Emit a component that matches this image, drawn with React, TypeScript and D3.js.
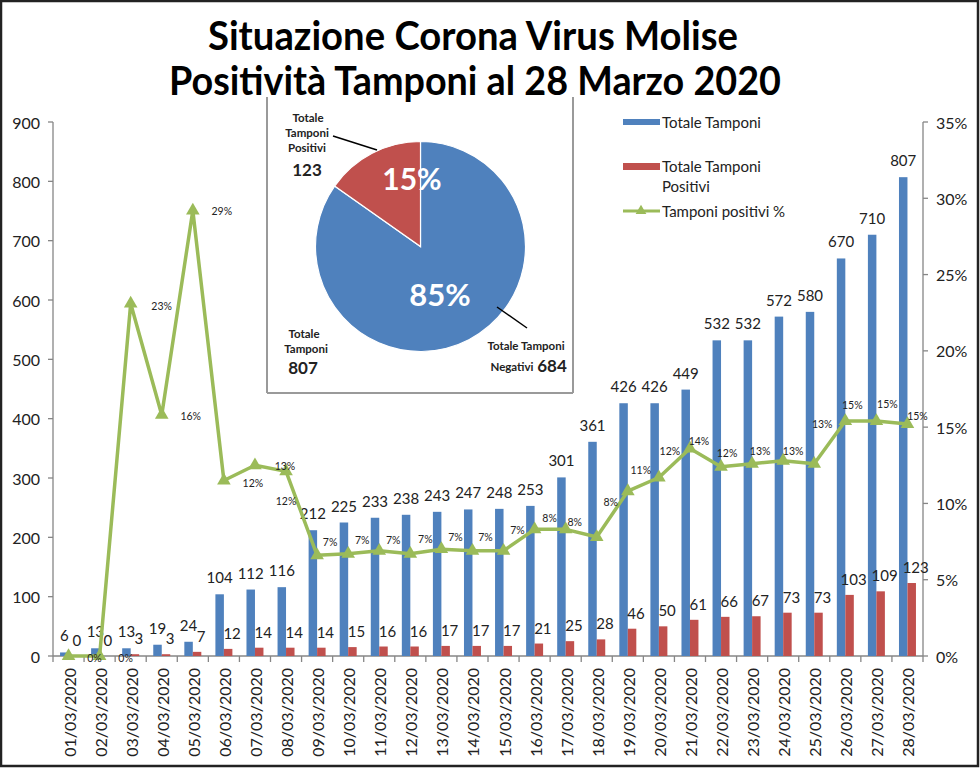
import React from "react";
import * as d3 from "d3";

const dates = [
  "01/03/2020","02/03/2020","03/03/2020","04/03/2020","05/03/2020","06/03/2020","07/03/2020",
  "08/03/2020","09/03/2020","10/03/2020","11/03/2020","12/03/2020","13/03/2020","14/03/2020",
  "15/03/2020","16/03/2020","17/03/2020","18/03/2020","19/03/2020","20/03/2020","21/03/2020",
  "22/03/2020","23/03/2020","24/03/2020","25/03/2020","26/03/2020","27/03/2020","28/03/2020",
];
const totaleTamponi = [6,13,13,19,24,104,112,116,212,225,233,238,243,247,248,253,301,361,426,426,449,532,532,572,580,670,710,807];
const totalePositivi = [0,0,3,3,7,12,14,14,14,15,16,16,17,17,17,21,25,28,46,50,61,66,67,73,73,103,109,123];
const percentPositivi = [0,0,23.1,15.8,29.2,11.5,12.5,12.1,6.6,6.7,6.9,6.7,7.0,6.9,6.9,8.3,8.3,7.8,10.8,11.7,13.6,12.4,12.6,12.8,12.6,15.4,15.4,15.2];
const percentLabels = ["0%","0%","23%","16%","29%","12%","13%","12%","7%","7%","7%","7%","7%","7%","7%","8%","8%","8%","11%","12%","14%","12%","13%","13%","13%","15%","15%","15%"];
// label placement offsets (style)
const pctDx = [26,26,31,29,29,29,30,0,13,14,14,15,14,13,14,15,9,14,13,11,9,6,8,10,8,7,11,10];
const pctDy = [2,2,2,1,1,2,1,30,-13,-14,-11,-15,-12,-14,-21,-11,-7,-35,-21,-26,-8,-14,-13,-10,-40,-16,-17,-8];

const leftTicks = [0,100,200,300,400,500,600,700,800,900];
const rightTicks = [0,5,10,15,20,25,30,35];

const pieValues = [684, 123]; // negativi, positivi
const pieLabels = ["85%", "15%"];

const BLUE = "#4F81BD";
const RED = "#C0504D";
const GREEN = "#9BBB59";
const AXIS = "#868686";
const FONT = "Lato, 'Liberation Sans', sans-serif";

export default function App() {
  const x0 = 53, x1 = 923, yTop = 122, yBot = 656;
  const x = d3.scaleBand<string>().domain(dates).range([x0, x1]).padding(0);
  const sub = d3.scaleBand<string>().domain(["t", "p"]).range([0, x.bandwidth()]).paddingInner(0).paddingOuter(0.83);
  const yL = d3.scaleLinear().domain([0, 900]).range([yBot, yTop]);
  const yR = d3.scaleLinear().domain([0, 35]).range([yBot, yTop]);
  const cx = (d: string) => (x(d) as number) + x.bandwidth() / 2;

  const line = d3.line<number>().x((_, i) => cx(dates[i])).y((v) => yR(v));
  const tri = d3.symbol().type(d3.symbolTriangle).size(80);

  const pie = d3.pie<number>().sort(null).value((d) => d)(pieValues);
  const arc = d3.arc<d3.PieArcDatum<number>>().innerRadius(0).outerRadius(105);
  const pcx = 420.5, pcy = 246.5;

  return (
    <svg width={980} height={768} style={{ position: "absolute", left: 0, top: 0, background: "#fff" }} fontFamily={FONT}>
      <rect x={0} y={0} width={980} height={768} fill="#fff" />

      {/* Axes */}
      <line x1={x0} x2={x0} y1={yTop} y2={yBot} stroke={AXIS} strokeWidth={1.3} />
      <line x1={x1} x2={x1} y1={yTop} y2={yBot} stroke={AXIS} strokeWidth={1.3} />
      <line x1={x0} x2={x1} y1={yBot} y2={yBot} stroke={AXIS} strokeWidth={1.3} />
      {leftTicks.map((t) => (
        <g key={"l" + t}>
          <line x1={x0 - 5} x2={x0} y1={yL(t)} y2={yL(t)} stroke={AXIS} strokeWidth={1.3} />
          <text x={40} y={yL(t)} textAnchor="end" dominantBaseline="central" fontSize={16} fill="#222">{t}</text>
        </g>
      ))}
      {rightTicks.map((t) => (
        <g key={"r" + t}>
          <line x1={x1} x2={x1 + 5} y1={yR(t)} y2={yR(t)} stroke={AXIS} strokeWidth={1.3} />
          <text x={936} y={yR(t)} textAnchor="start" dominantBaseline="central" fontSize={16} fill="#222">{t + "%"}</text>
        </g>
      ))}
      {dates.map((d, i) => (
        <line key={"xt" + i} x1={x(d) as number} x2={x(d) as number} y1={yBot} y2={yBot + 6} stroke={AXIS} strokeWidth={1.3} />
      ))}
      <line x1={x1} x2={x1} y1={yBot} y2={yBot + 6} stroke={AXIS} strokeWidth={1.3} />
      {dates.map((d) => (
        <text key={"xl" + d} transform={`translate(${cx(d) + 7},${668}) rotate(-90)`} textAnchor="end" fontSize={16} fill="#222">{d}</text>
      ))}

      {/* Bars */}
      {dates.map((d, i) => {
        const bx = (x(d) as number) + (sub("t") as number);
        const rx = (x(d) as number) + (sub("p") as number);
        const bw = sub.bandwidth();
        return (
          <g key={"b" + i}>
            <rect x={bx} y={yL(totaleTamponi[i])} width={bw} height={yBot - yL(totaleTamponi[i])} fill={BLUE} />
            <rect x={rx} y={yL(totalePositivi[i])} width={bw} height={yBot - yL(totalePositivi[i])} fill={RED} />
          </g>
        );
      })}
      {dates.map((d, i) => {
        const bx = (x(d) as number) + (sub("t") as number) + sub.bandwidth() / 2;
        const rx = (x(d) as number) + (sub("p") as number) + sub.bandwidth() / 2;
        return (
          <g key={"bl" + i} fontSize={15} fill="#222">
            <text x={bx} y={yL(totaleTamponi[i]) - 17} textAnchor="middle" dominantBaseline="central">{totaleTamponi[i]}</text>
            <text x={rx + 4} y={yL(totalePositivi[i]) - 16} textAnchor="middle" dominantBaseline="central">{totalePositivi[i]}</text>
          </g>
        );
      })}

      {/* Line */}
      <path d={line(percentPositivi) || ""} fill="none" stroke={GREEN} strokeWidth={3.5} strokeLinejoin="round" />
      {percentPositivi.map((v, i) => (
        <path key={"m" + i} d={tri() || ""} transform={`translate(${cx(dates[i])},${yR(v)})`} fill={GREEN} />
      ))}
      {percentPositivi.map((v, i) => (
        <text key={"pl" + i} x={cx(dates[i]) + pctDx[i]} y={yR(v) + pctDy[i]} textAnchor="middle" dominantBaseline="central" fontSize={10.5} fill="#222">{percentLabels[i]}</text>
      ))}

      {/* Legend */}
      <rect x={623} y={119} width={37} height={6} fill={BLUE} />
      <text x={662} y={122} dominantBaseline="central" fontSize={15} fill="#222">Totale Tamponi</text>
      <rect x={623} y={163} width={37} height={7} fill={RED} />
      <text x={662} y={166} dominantBaseline="central" fontSize={15} fill="#222">Totale Tamponi</text>
      <text x={662} y={186} dominantBaseline="central" fontSize={15} fill="#222">Positivi</text>
      <line x1={623} x2={660} y1={211} y2={211} stroke={GREEN} strokeWidth={3} />
      <path d={d3.symbol().type(d3.symbolTriangle).size(50)() || ""} transform="translate(641,211)" fill={GREEN} />
      <text x={662} y={211} dominantBaseline="central" fontSize={15} fill="#222">Tamponi positivi %</text>

      {/* Pie inset */}
      <rect x={267} y={98} width={306} height={295} fill="#fff" stroke="none" />
      <line x1={267} x2={267} y1={97} y2={393} stroke="#9a9a9a" strokeWidth={2} />
      <line x1={573} x2={573} y1={97} y2={393} stroke="#9a9a9a" strokeWidth={2} />
      <line x1={267} x2={573} y1={393} y2={393} stroke="#9a9a9a" strokeWidth={2} />
      <g transform={`translate(${pcx},${pcy})`}>
        {pie.map((p, i) => (
          <path key={"pie" + i} d={arc(p) || ""} fill={i === 0 ? BLUE : RED} stroke="#fff" strokeWidth={1.2} />
        ))}
      </g>
      <text x={412} y={178} textAnchor="middle" dominantBaseline="central" fontSize={30} fontWeight="bold" fill="#fff">{pieLabels[1]}</text>
      <text x={440} y={294} textAnchor="middle" dominantBaseline="central" fontSize={31} fontWeight="bold" fill="#fff">{pieLabels[0]}</text>
      <line x1={333} y1={136} x2={377} y2={150} stroke="#000" strokeWidth={1.5} />
      <line x1={497} y1={307} x2={527} y2={328} stroke="#000" strokeWidth={1.5} />
      <g fontWeight="bold" fill="#222" textAnchor="middle" fontSize={11.5}>
        <text x={308} y={117} dominantBaseline="central">Totale</text>
        <text x={307} y={132} dominantBaseline="central">Tamponi</text>
        <text x={307} y={147} dominantBaseline="central">Positivi</text>
        <text x={307} y={169} dominantBaseline="central" fontSize={17}>{pieValues[1]}</text>
        <text x={304} y={333} dominantBaseline="central">Totale</text>
        <text x={306} y={348} dominantBaseline="central">Tamponi</text>
        <text x={303} y={367} dominantBaseline="central" fontSize={17}>{pieValues[0] + pieValues[1]}</text>
        <text x={526} y={345} dominantBaseline="central">Totale Tamponi</text>
        <text x={512} y={366} dominantBaseline="central">Negativi</text>
        <text x={552} y={365} dominantBaseline="central" fontSize={17}>{pieValues[0]}</text>
      </g>

      {/* Title (drawn over the inset frame) */}
      <rect x={150} y={58} width={650} height={38} fill="#fff" />
      <text x={473} y={35} textAnchor="middle" dominantBaseline="central" fontSize={40} fontWeight="bold" textLength={530} lengthAdjust="spacingAndGlyphs">Situazione Corona Virus Molise</text>
      <text x={475} y={80} textAnchor="middle" dominantBaseline="central" fontSize={40} fontWeight="bold" textLength={612} lengthAdjust="spacingAndGlyphs">Positività Tamponi al 28 Marzo 2020</text>

      {/* Frame */}
      <rect x={1} y={1} width={977} height={765} fill="none" stroke="#222" strokeWidth={2.5} />
    </svg>
  );
}
